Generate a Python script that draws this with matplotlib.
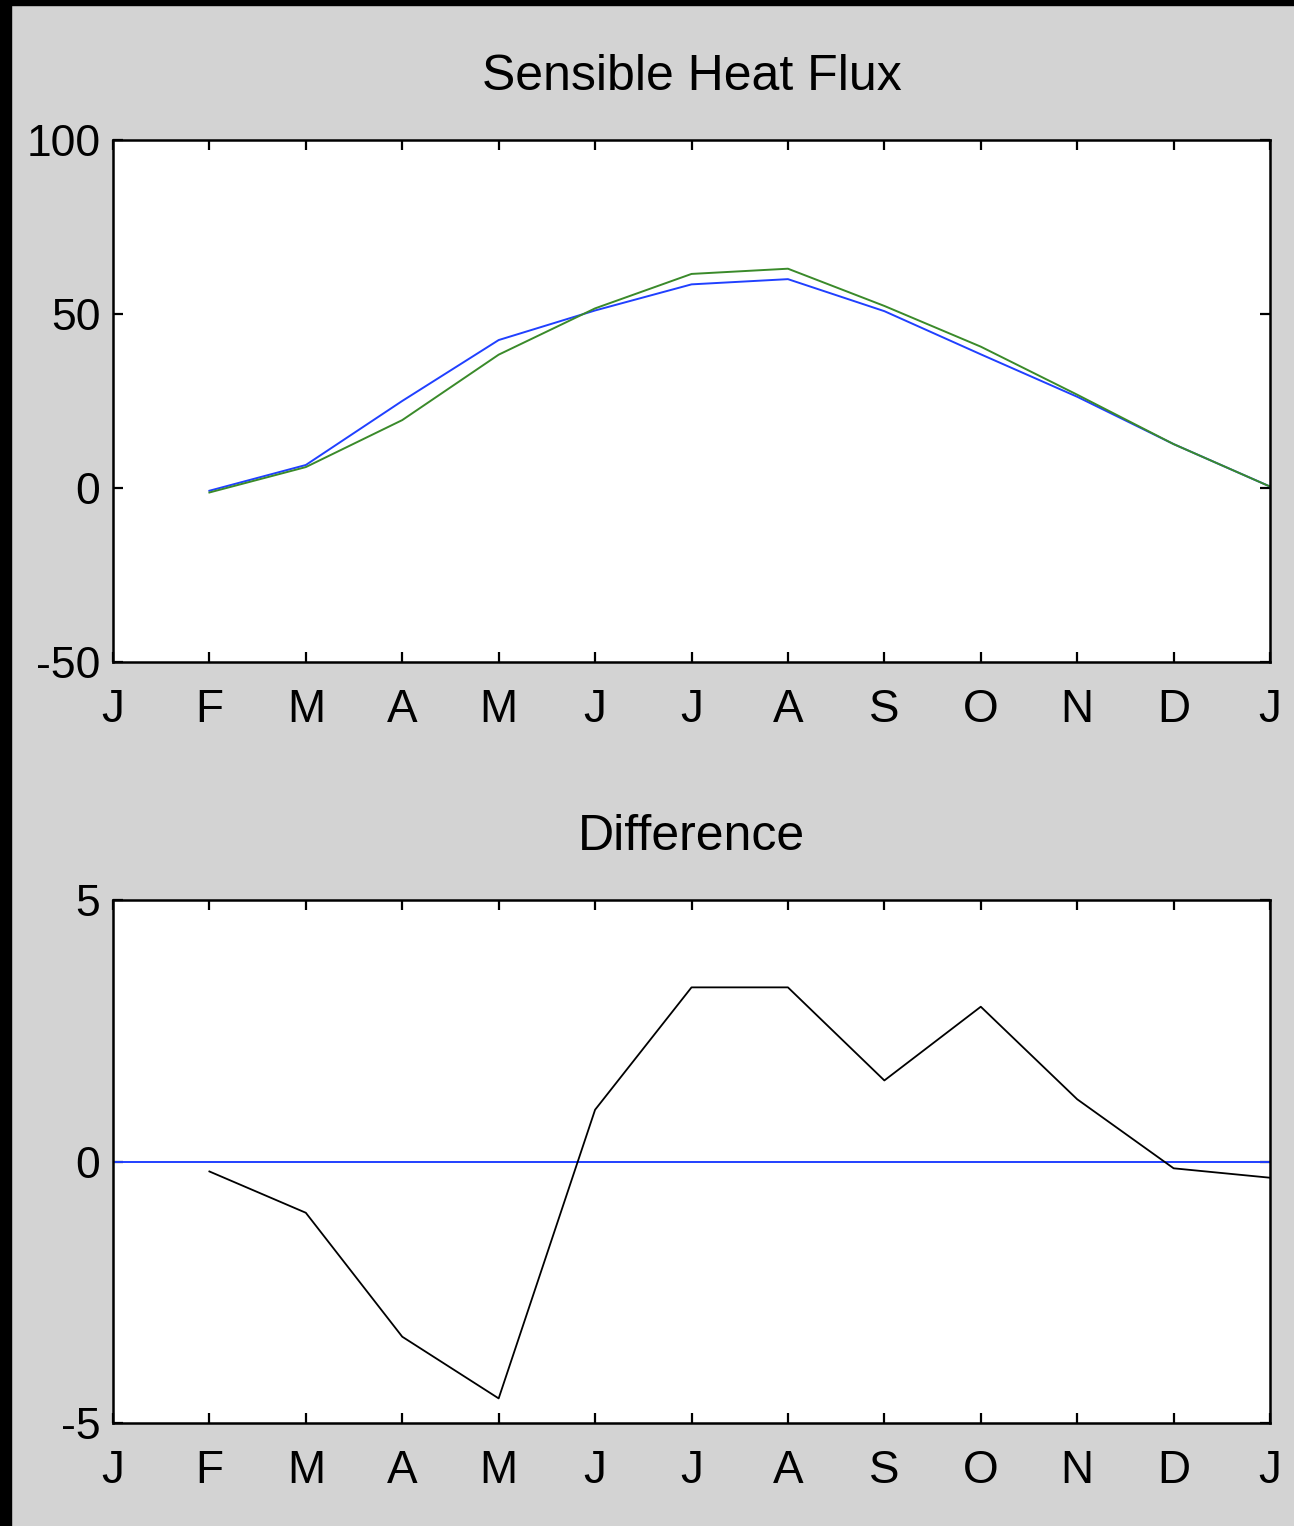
import matplotlib
matplotlib.use("Agg")
import matplotlib.pyplot as plt
from matplotlib.patches import Rectangle

plt.rcParams["font.family"] = ["Liberation Sans", "DejaVu Sans"]

# month index 1..13 (Jan .. next Jan)
month_labels = ["J", "F", "M", "A", "M", "J", "J", "A", "S", "O", "N", "D", "J"]
months = list(range(1, 14))
data_months = list(range(2, 14))

flux_blue = [-0.8, 6.6, 25.0, 42.5, 51.0, 58.5, 60.0, 50.8, 38.4, 26.2, 12.6, 0.4]
flux_green = [-1.3, 6.0, 19.5, 38.3, 51.6, 61.5, 63.0, 52.3, 40.6, 26.8, 12.6, 0.4]
difference = [-0.19, -0.98, -3.35, -4.53, 0.99, 3.33, 3.33, 1.55, 2.96, 1.19, -0.13, -0.31]

BG = "#d3d3d3"
BLUE = "#2040ff"
GREEN = "#3a8a2a"


def style_axes(ax, ylim, yticks, title):
    ax.set_xlim(1, 13)
    ax.set_ylim(*ylim)
    ax.set_xticks(months)
    ax.set_xticklabels(month_labels)
    ax.set_yticks(yticks)
    ax.set_yticklabels([str(v) for v in yticks])
    ax.tick_params(axis="x", direction="in", length=7, width=1.6, top=True,
                   labelsize=33, pad=19)
    ax.tick_params(axis="y", direction="in", length=7, width=1.6, right=True,
                   labelsize=32, pad=9)
    for sp in ax.spines.values():
        sp.set_linewidth(1.8)
    ax.set_title(title, fontsize=36, pad=36)


fig = plt.figure(figsize=(12.94, 15.26), dpi=100, facecolor=BG)

ax1 = fig.add_axes([0.0873, 0.5662, 0.8942, 0.3421])
ax1.plot(data_months, flux_blue, color=BLUE, lw=1.4)
ax1.plot(data_months, flux_green, color=GREEN, lw=1.4)
style_axes(ax1, (-50, 100), [-50, 0, 50, 100], "Sensible Heat Flux")

ax2 = fig.add_axes([0.0873, 0.0675, 0.8942, 0.3427])
ax2.axhline(0, color=BLUE, lw=1.4)
ax2.plot(data_months, difference, color="black", lw=1.3)
style_axes(ax2, (-5, 5), [-5, 0, 5], "Difference")

# black window edge on left and top
fig.patches.append(Rectangle((0, 0), 11 / 1294, 1, transform=fig.transFigure,
                             color="black", zorder=10))
fig.patches.append(Rectangle((0, 1 - 5 / 1526), 1, 5 / 1526,
                             transform=fig.transFigure, color="black", zorder=10))

fig.savefig("out.png", dpi=100, facecolor=BG)
